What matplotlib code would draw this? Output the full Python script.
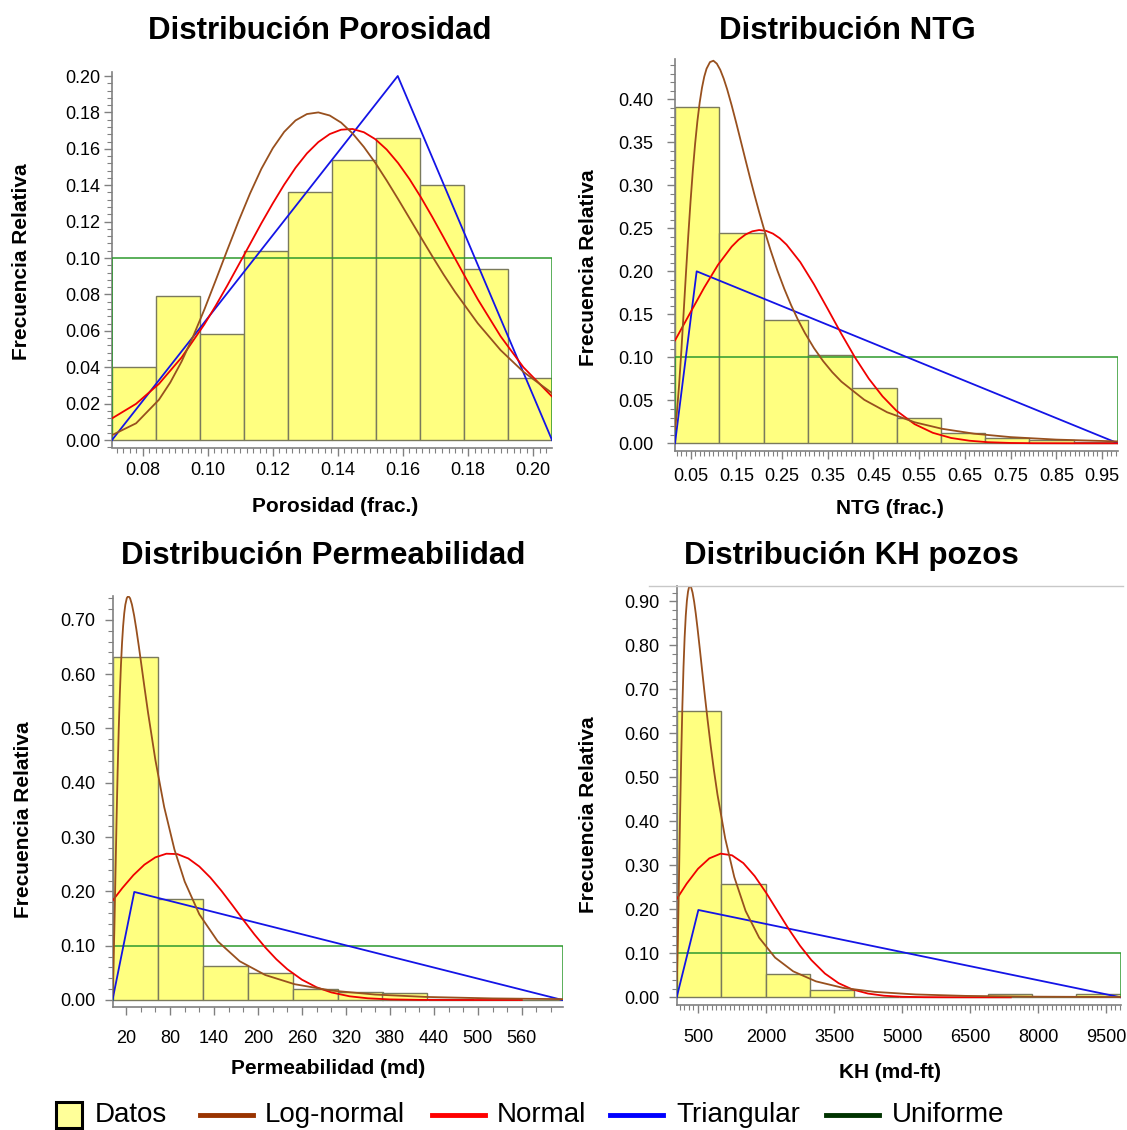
import numpy as np
import matplotlib
matplotlib.use('Agg')
import matplotlib.pyplot as plt
from matplotlib.ticker import MultipleLocator, FormatStrFormatter, FixedLocator
from matplotlib.lines import Line2D

plt.rcParams['font.family'] = ['Liberation Sans', 'DejaVu Sans']

W, H = 1127, 1130

# ---------------- Porosidad ----------------
por_rango = [0.0706, 0.2058]
por_frec = [0.040, 0.079, 0.058, 0.104, 0.136, 0.154, 0.166, 0.140, 0.094, 0.034]
por_logn_x = [0.0706, 0.078, 0.085, 0.0885, 0.092, 0.0955, 0.099, 0.1025, 0.106, 0.1095,
              0.113, 0.1165, 0.120, 0.1235, 0.127, 0.1305, 0.134, 0.1375, 0.141, 0.1445,
              0.148, 0.1515, 0.155, 0.1585, 0.162, 0.1655, 0.169, 0.1725, 0.176, 0.183,
              0.190, 0.197, 0.2058]
por_logn_y = [0.0027, 0.0092, 0.0221, 0.0316, 0.0432, 0.0568, 0.0718, 0.0879, 0.1043, 0.1203,
              0.1354, 0.1490, 0.1603, 0.1693, 0.1756, 0.1791, 0.1800, 0.1783, 0.1744, 0.1685,
              0.1610, 0.1523, 0.1426, 0.1324, 0.1219, 0.1114, 0.1010, 0.0909, 0.0814, 0.0641,
              0.0494, 0.0375, 0.0258]
por_norm_x = [0.0706, 0.078, 0.085, 0.092, 0.099, 0.1025, 0.106, 0.1095, 0.113, 0.1165,
              0.120, 0.1235, 0.127, 0.1305, 0.134, 0.1375, 0.141, 0.1445, 0.148, 0.1515,
              0.155, 0.1585, 0.162, 0.1655, 0.169, 0.1725, 0.176, 0.1795, 0.183, 0.190,
              0.197, 0.2058]
por_norm_y = [0.0119, 0.0199, 0.0308, 0.0454, 0.0636, 0.0739, 0.0848, 0.0962, 0.1076, 0.1191,
              0.1300, 0.1403, 0.1496, 0.1575, 0.1637, 0.1681, 0.1705, 0.1709, 0.1691, 0.1653,
              0.1596, 0.1522, 0.1434, 0.1334, 0.1226, 0.1113, 0.0998, 0.0884, 0.0773, 0.0570,
              0.0400, 0.0239]
por_tri_x = [0.0706, 0.1584, 0.2058]
por_tri_y = [0.0, 0.200, 0.0]
por_unif = 0.10

# ---------------- NTG ----------------
ntg_rango = [0.016, 0.985]
ntg_frec = [0.391, 0.244, 0.1435, 0.103, 0.064, 0.030, 0.012, 0.0065, 0.0035, 0.001]
ntg_logn_x = [0.016, 0.020, 0.025, 0.030, 0.035, 0.040, 0.045, 0.050, 0.055, 0.060,
              0.065, 0.070, 0.075, 0.080, 0.085, 0.0925, 0.100, 0.1075, 0.115, 0.1225,
              0.130, 0.140, 0.150, 0.160, 0.170, 0.180, 0.190, 0.200, 0.210, 0.225,
              0.240, 0.255, 0.270, 0.285, 0.300, 0.320, 0.340, 0.360, 0.380, 0.430,
              0.480, 0.540, 0.600, 0.670, 0.750, 0.850, 0.985]
ntg_logn_y = [0.0164, 0.0351, 0.0681, 0.1085, 0.1529, 0.1979, 0.2413, 0.2814, 0.3173, 0.3484,
              0.3747, 0.3963, 0.4134, 0.4264, 0.4356, 0.4433, 0.4449, 0.4415, 0.4343, 0.4241,
              0.4118, 0.3929, 0.3725, 0.3513, 0.3300, 0.3090, 0.2886, 0.2691, 0.2504, 0.2246,
              0.2009, 0.1797, 0.1606, 0.1436, 0.1284, 0.1107, 0.0956, 0.0827, 0.0717, 0.0506,
              0.0361, 0.0245, 0.0169, 0.0112, 0.0072, 0.0043, 0.0022]
ntg_norm_x = [0.016, 0.05, 0.08, 0.11, 0.14, 0.155, 0.17, 0.185, 0.20, 0.215, 0.23, 0.245,
              0.26, 0.29, 0.32, 0.35, 0.38, 0.41, 0.44, 0.47, 0.50, 0.54, 0.58, 0.62,
              0.66, 0.70, 0.75, 0.80, 0.90, 0.985]
ntg_norm_y = [0.1196, 0.1524, 0.1812, 0.2075, 0.2287, 0.2367, 0.2427, 0.2465, 0.2480, 0.2471,
              0.2439, 0.2385, 0.2310, 0.2107, 0.1849, 0.1563, 0.1272, 0.0996, 0.0751, 0.0546,
              0.0381, 0.0223, 0.0122, 0.0062, 0.0030, 0.0013, 0.0004, 0.0001, 0.0, 0.0]
ntg_tri_x = [0.016, 0.0634, 0.985]
ntg_tri_y = [0.0, 0.200, 0.0]
ntg_unif = 0.10

# ---------------- Permeabilidad ----------------
perm_rango = [1.5, 615.5]
perm_frec = [0.632, 0.186, 0.063, 0.050, 0.021, 0.015, 0.013, 0.0015, 0.0008, 0.0005]
perm_logn_x = [1.5, 2.7, 4, 5.5, 7, 8.5, 10, 11.5, 13, 14.5, 16, 17.5, 19, 21, 23, 25.5,
               28, 31, 34, 37.5, 41, 45, 50, 60, 72, 86, 100, 120, 145, 175, 210, 250,
               300, 360, 430, 520, 615.5]
perm_logn_y = [0.0104, 0.0535, 0.1284, 0.2293, 0.3295, 0.4203, 0.4985, 0.5634, 0.6159, 0.6573,
               0.6888, 0.7120, 0.7279, 0.7401, 0.7440, 0.7398, 0.7284, 0.7081, 0.6831, 0.6506,
               0.6164, 0.5770, 0.5292, 0.4421, 0.3555, 0.2772, 0.2181, 0.1577, 0.1082, 0.0714,
               0.0460, 0.0291, 0.0174, 0.0100, 0.0056, 0.0029, 0.0016]
perm_norm_x = [1.5, 15, 30, 45, 60, 75, 90, 105, 120, 135, 150, 165, 180, 195, 210, 225,
               240, 260, 280, 300, 325, 350, 380, 420, 470, 560]
perm_norm_y = [0.1828, 0.2063, 0.2299, 0.2492, 0.2627, 0.2694, 0.2687, 0.2606, 0.2458, 0.2255,
               0.2013, 0.1747, 0.1474, 0.1210, 0.0967, 0.0751, 0.0567, 0.0374, 0.0234, 0.0140,
               0.0068, 0.0031, 0.0011, 0.0002, 0.0, 0.0]
perm_tri_x = [1.5, 31.2, 615.5]
perm_tri_y = [0.0, 0.199, 0.0]
perm_unif = 0.10

# ---------------- KH pozos ----------------
kh_rango = [30, 9824]
kh_frec = [0.6515, 0.2576, 0.0523, 0.0159, 0.0, 0.0, 0.0, 0.0068, 0.0, 0.0068]
kh_logn_x = [30, 55, 80, 105, 130, 155, 180, 205, 230, 255, 280, 300, 324, 350, 380, 415,
             450, 490, 540, 590, 650, 710, 780, 850, 930, 1100, 1300, 1550, 1850, 2200,
             2600, 3100, 3700, 4400, 5300, 6400, 7800, 9824]
kh_logn_y = [0.0254, 0.1261, 0.2689, 0.4166, 0.5497, 0.6613, 0.7503, 0.8182, 0.8677, 0.9015,
             0.9224, 0.9315, 0.9350, 0.9315, 0.9200, 0.8992, 0.8729, 0.8384, 0.7918, 0.7438,
             0.6866, 0.6318, 0.5718, 0.5170, 0.4605, 0.3610, 0.2734, 0.1963, 0.1353, 0.0903,
             0.0590, 0.0363, 0.0214, 0.0123, 0.0065, 0.0032, 0.0015, 0.0006]
kh_norm_x = [30, 250, 500, 750, 1000, 1250, 1500, 1750, 2000, 2250, 2500, 2750, 3000,
             3300, 3600, 3900, 4250, 4600, 5000, 5500, 6000, 7400]
kh_norm_y = [0.2234, 0.2584, 0.2922, 0.3159, 0.3266, 0.3228, 0.3051, 0.2756, 0.2381, 0.1967,
             0.1553, 0.1173, 0.0847, 0.0540, 0.0322, 0.0181, 0.0085, 0.0036, 0.0012, 0.0003,
             0.0001, 0.0]
kh_tri_x = [30, 508, 9824]
kh_tri_y = [0.0, 0.1985, 0.0]
kh_unif = 0.10

# colores
c_barra = '#FFFF80'
c_borde = '#7A7A5C'
c_logn = '#98501E'
c_norm = '#F00000'
c_tri = '#1414E6'
c_unif = '#2E9A2E'
c_eje = '#808080'


def px(left, top, right, bottom):
    return [left / W, 1 - bottom / H, (right - left) / W, (bottom - top) / H]


def panel(rect, ylim, rango, frec, lx, ly, nx, ny, tx, ty, unif,
          xmaj, xmin_step, ymaj, ymin_step, xpad, ypad):
    ax = fig.add_axes(px(*rect))
    edges = np.linspace(rango[0], rango[1], len(frec) + 1)
    ax.bar(edges[:-1], frec, width=np.diff(edges), align='edge',
           color=c_barra, edgecolor=c_borde, linewidth=1.0, zorder=2)
    ax.plot([rango[0], rango[0], rango[1], rango[1]], [0, unif, unif, 0],
            color=c_unif, lw=1.1, zorder=3)
    ax.plot(tx, ty, color=c_tri, lw=1.3, zorder=4)
    ax.plot(nx, ny, color=c_norm, lw=1.3, zorder=5)
    ax.plot(lx, ly, color=c_logn, lw=1.3, zorder=6)
    ax.set_xlim(rango)
    ax.set_ylim(ylim)
    for s in ['top', 'right']:
        ax.spines[s].set_visible(False)
    for s in ['left', 'bottom']:
        ax.spines[s].set_color(c_eje)
        ax.spines[s].set_linewidth(1.2)
    ax.xaxis.set_major_locator(FixedLocator(xmaj))
    ax.xaxis.set_minor_locator(MultipleLocator(xmin_step))
    ax.yaxis.set_major_locator(MultipleLocator(ymaj))
    ax.yaxis.set_minor_locator(MultipleLocator(ymin_step))
    ax.yaxis.set_major_formatter(FormatStrFormatter('%.2f'))
    ax.tick_params(which='both', direction='out', color=c_eje, labelsize=13)
    ax.tick_params(which='major', length=6, width=1)
    ax.tick_params(which='minor', length=3.5, width=0.8)
    ax.tick_params(axis='x', pad=xpad)
    ax.tick_params(axis='y', pad=ypad)
    return ax


fig = plt.figure(figsize=(W / 100, H / 100), dpi=100)

ax1 = panel((112, 72, 552, 447.5), (-0.0041, 0.2022), por_rango, por_frec,
            por_logn_x, por_logn_y, por_norm_x, por_norm_y, por_tri_x, por_tri_y, por_unif,
            [0.08, 0.10, 0.12, 0.14, 0.16, 0.18, 0.20], 0.002, 0.02, 0.004, 4.5, 2.5)
ax1.xaxis.set_major_formatter(FormatStrFormatter('%.2f'))

ax2 = panel((675, 59, 1118, 451.3), (-0.0093, 0.4469), ntg_rango, ntg_frec,
            ntg_logn_x, ntg_logn_y, ntg_norm_x, ntg_norm_y, ntg_tri_x, ntg_tri_y, ntg_unif,
            [0.05, 0.15, 0.25, 0.35, 0.45, 0.55, 0.65, 0.75, 0.85, 0.95], 0.01, 0.05, 0.01, 6, 9.5)
ax2.xaxis.set_major_formatter(FormatStrFormatter('%.2f'))

ax3 = panel((112.5, 596, 562.5, 1007), (-0.0129, 0.744), perm_rango, perm_frec,
            perm_logn_x, perm_logn_y, perm_norm_x, perm_norm_y, perm_tri_x, perm_tri_y, perm_unif,
            [20, 80, 140, 200, 260, 320, 380, 440, 500, 560], 20, 0.10, 0.02, 10.5, 6.5)
ax3.xaxis.set_major_formatter(FormatStrFormatter('%d'))

ax4 = panel((676.7, 586, 1120.7, 1005), (-0.0175, 0.935), kh_rango, kh_frec,
            kh_logn_x, kh_logn_y, kh_norm_x, kh_norm_y, kh_tri_x, kh_tri_y, kh_unif,
            [500, 2000, 3500, 5000, 6500, 8000, 9500], 100, 0.10, 0.02, 11, 6.5)
ax4.xaxis.set_major_formatter(FormatStrFormatter('%d'))

# linea gris de arriba del panel KH
fig.add_artist(Line2D([649 / W, 1123 / W], [1 - 586 / H, 1 - 586 / H],
                      color='#C8C8C8', lw=1.0))

# titulos y etiquetas
titulos = ['Distribución Porosidad', 'Distribución NTG',
           'Distribución Permeabilidad', 'Distribución KH pozos']
pos_tit = [(320, 31), (847, 31), (323, 556), (851, 556)]
for t, (x, y) in zip(titulos, pos_tit):
    fig.text(x / W, 1 - y / H, t, ha='center', va='center', fontsize=22.5, fontweight='bold')

xlabels = ['Porosidad (frac.)', 'NTG (frac.)', 'Permeabilidad (md)', 'KH (md-ft)']
pos_xl = [(335, 507), (890, 508), (328, 1068), (890, 1072)]
for t, (x, y) in zip(xlabels, pos_xl):
    fig.text(x / W, 1 - y / H, t, ha='center', va='center', fontsize=15, fontweight='bold')

pos_yl = [(22, 262), (589, 268), (24, 820), (589, 815)]
for x, y in pos_yl:
    fig.text(x / W, 1 - y / H, 'Frecuencia Relativa', ha='center', va='center',
             rotation=90, fontsize=15, fontweight='bold')

# leyenda (colocada a mano, como en la figura original)
yl = 1 - 1115 / H
fig.add_artist(Line2D([69 / W], [yl], marker='s', markersize=19, markerfacecolor='#FFFF99',
                      markeredgecolor='black', markeredgewidth=2.2, linestyle='None'))
fig.text(95 / W, yl, 'Datos', ha='left', va='center', fontsize=20)
ley = [('Log-normal', '#993300', 200, 265), ('Normal', '#FF0000', 432, 497),
       ('Triangular', '#0000FF', 610, 676), ('Uniforme', '#003300', 826, 892)]
for nombre, col, x0, xt in ley:
    fig.add_artist(Line2D([x0 / W, (x0 + 53) / W], [yl, yl], color=col, lw=3.5))
    fig.text(xt / W, yl, nombre, ha='left', va='center', fontsize=20)

fig.savefig('out.png', dpi=100)
